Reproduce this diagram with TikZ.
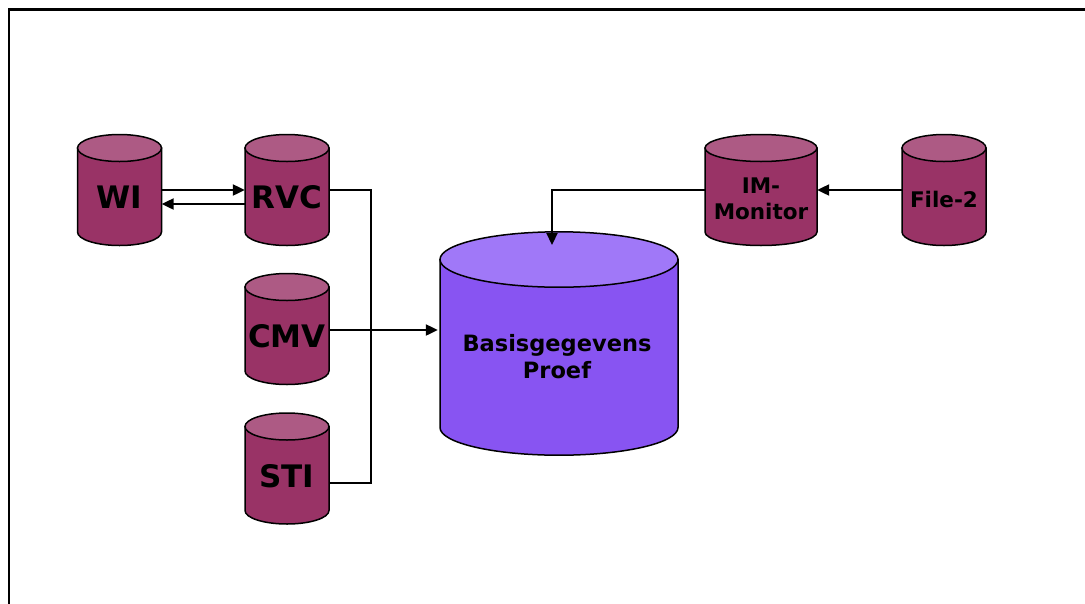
\documentclass[tikz,border=0pt]{standalone}
\usepackage{fontspec}
\setmainfont{DejaVu Sans}
\usetikzlibrary{arrows.meta}
\definecolor{drumbody}{HTML}{993366}
\definecolor{drumlid}{HTML}{AD5A84}
\definecolor{vatbody}{HTML}{8854F2}
\definecolor{vatlid}{HTML}{A078F8}

% cylinder: centre x, lid-ellipse y, base-ellipse y, x radius, y radius, body colour, lid colour
\newcommand\drum[7]{%
  \filldraw[fill=#6, outline] (#1-#4,#2) -- (#1-#4,#3)
    arc[start angle=180, end angle=0, x radius=#4, y radius=#5] -- (#1+#4,#2) -- cycle;
  \filldraw[fill=#7, outline] (#1,#2) ellipse[x radius=#4, y radius=#5];
}

\begin{document}
\begin{tikzpicture}[x=1pt, y=-1pt,
  outline/.style={draw=black, line width=1.5pt},
  link/.style={draw=black, line width=2.2pt},
  flow/.style={link, -{Triangle[length=12pt, width=11pt]}},
  bigname/.style={inner sep=0pt, minimum width=84pt, align=center,
    font=\bfseries\fontsize{31}{37}\selectfont},
  smallname/.style={inner sep=0pt, align=center,
    font=\bfseries\fontsize{21.5}{26}\selectfont},
  vatname/.style={inner sep=0pt, align=center, minimum width=238pt,
    font=\bfseries\fontsize{22.5}{27}\selectfont}]
\useasboundingbox (0,0) rectangle (1085,603);
\clip (0,0) rectangle (1085,603);

% page frame
\draw[line width=2.4pt] (8.7,700) -- (8.7,9.3) -- (1200,9.3);

% data stores
\drum{119.5}{148}{232}{42}{13.5}{drumbody}{drumlid}
\drum{287}{148}{232}{42}{13.5}{drumbody}{drumlid}
\drum{287}{287}{371}{42}{13.5}{drumbody}{drumlid}
\drum{287}{426.5}{510.5}{42}{13.5}{drumbody}{drumlid}
\drum{761}{148}{232}{56}{13.5}{drumbody}{drumlid}
\drum{944}{148}{232}{42}{13.5}{drumbody}{drumlid}
\drum{559}{259.5}{427.5}{119}{27.7}{vatbody}{vatlid}

% labels
\node[bigname] (wi)  at (119.5,197) {WI};
\node[bigname] (rvc) at (287,197) {RVC};
\node[bigname] (cmv) at (287,336) {CMV};
\node[bigname] (sti) at (287,476) {STI};
\node[smallname, minimum width=112pt] (im) at (761,199) {IM-\\Monitor};
\node[smallname, minimum width=84pt] (file) at (944,199) {File-2};
\node[vatname] (base) at (557,357) {Basisgegevens\\Proef};

\coordinate (bus) at (371,190);
\coordinate (intake) at (552,245);

% connectors
\draw[flow] (wi.east |- 0,190) -- (rvc.west |- 0,190);
\draw[flow] (rvc.west |- 0,204) -- (wi.east |- 0,204);
\draw[link] (rvc.east |- bus) -- (bus) -- (bus |- 0,483) -- (sti.east |- 0,483);
\draw[flow] (cmv.east |- 0,330) -- (base.west |- 0,330);
\draw[flow] (im.west |- 0,190) -| (intake);
\draw[flow] (file.west |- 0,190) -- (im.east |- 0,190);
\end{tikzpicture}
\end{document}
